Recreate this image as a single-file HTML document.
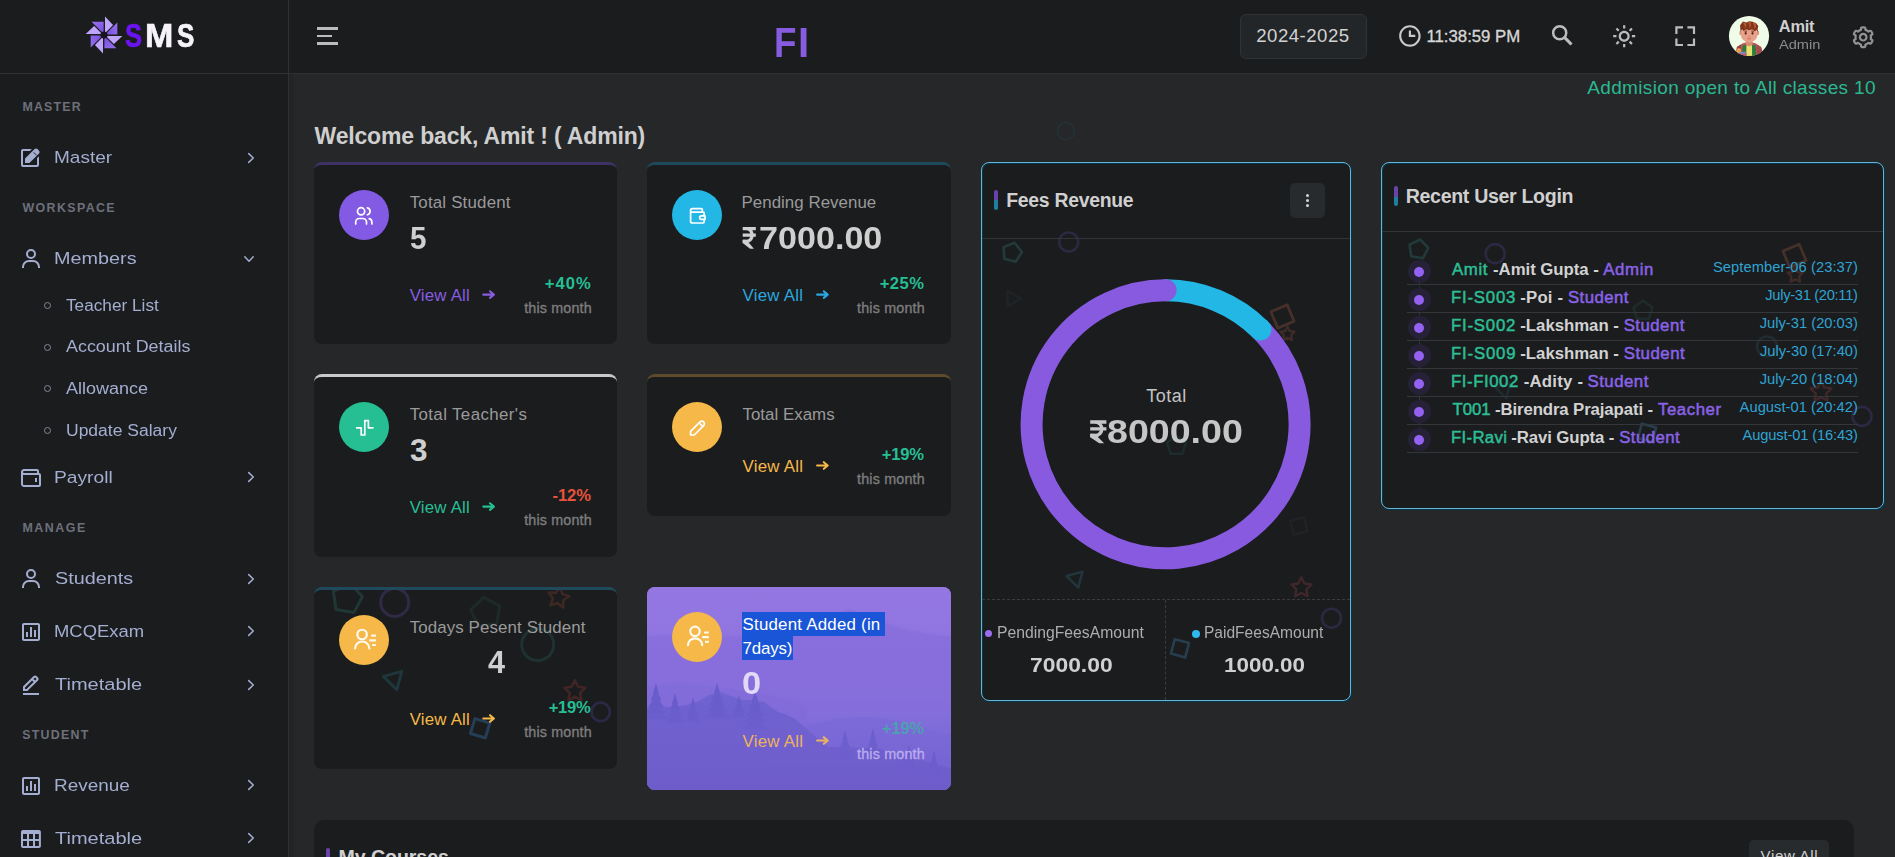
<!DOCTYPE html>
<html lang="en">
<head>
<meta charset="utf-8">
<title>SMS Dashboard</title>
<style>
*{box-sizing:border-box;margin:0;padding:0}
html,body{width:1895px;height:857px;overflow:hidden;background:#262729;font-family:"Liberation Sans",sans-serif}
#app{position:relative;width:1895px;height:857px;overflow:hidden;background:#262729}
.abs{position:absolute}
.t{position:absolute;white-space:nowrap;line-height:1;font-family:"Liberation Sans",sans-serif}
#sidebar{position:absolute;left:0;top:0;width:289px;height:857px;background:#1b1c1e;border-right:1px solid #2f3032}
#header{position:absolute;left:0;top:0;width:1895px;height:74px;background:#1b1c1e;border-bottom:1px solid #2f3032}
#sbhead{position:absolute;left:0;top:0;width:289px;height:74px;border-right:1px solid #2f3032;border-bottom:1px solid #2f3032}
.card{position:absolute;background:#1b1c1e;border-radius:8px;overflow:hidden}
.card.bt{border-top:3px solid #333}
.ic{position:absolute;width:50px;height:50px;border-radius:50%}
svg{position:absolute;overflow:visible}
.bul{position:absolute;width:7px;height:7px;border-radius:50%;border:1.3px solid #83889a}
.sep{position:absolute;height:1px;background:#323437}
</style>
</head>
<body>
<div id="app">

<!-- ============ MAIN CONTENT ============ -->
<div class="abs" id="sbshadow" style="left:289px;top:74px;width:5px;height:783px;background:rgba(0,0,0,.07)"></div>
<svg style="left:0;top:0" width="1895" height="857" viewBox="0 0 1895 857" fill="none"><circle cx="1066" cy="131" r="8.5" stroke="#243033" stroke-width="2.2"/></svg>
<div class="card" style="left:1381px;top:162px;width:503px;height:347px;border:1px solid #66b5d4;border-radius:8px;box-shadow:1px 1px 0 #06364c, inset 1px 1px 0 #06364c"><!--SHAPESR--></div>
<div class="card" style="left:981px;top:162px;width:370px;height:539px;border:1px solid #66b5d4;border-radius:8px;box-shadow:1px 1px 0 #06364c, inset 1px 1px 0 #06364c"><!--SHAPESF--></div>
<div class="card" style="left:314px;top:162px;width:303px;height:182px;border-top:3px solid #3c3264"></div>
<div class="card" style="left:647px;top:162px;width:304px;height:182px;border-top:3px solid #1f4a5c"></div>
<div class="card" style="left:314px;top:374px;width:303px;height:183px;border-top:3px solid #c9c9c9"></div>
<div class="card" style="left:647px;top:374px;width:304px;height:141.5px;border-top:3px solid #5e4b2c"></div>
<div class="card" style="left:314px;top:587px;width:303px;height:181.5px;border-top:3px solid #1f4a5c"><!--SHAPES5--></div>
<div class="card" style="left:647px;top:587px;width:304px;height:203px;background:#8f72dd"><!--LS0--><svg style="left:0;top:0" width="304" height="203" viewBox="0 0 304 203"><defs><linearGradient id="sky" x1="0" y1="0" x2="0" y2="1"><stop offset="0" stop-color="#9577e2"/><stop offset="0.45" stop-color="#8b73de"/><stop offset="0.75" stop-color="#7f6dd9"/><stop offset="1" stop-color="#7464d1"/></linearGradient><linearGradient id="rg" x1="0" y1="0" x2="0" y2="1"><stop offset="0" stop-color="#6f63d0"/><stop offset="1" stop-color="#6a58c6"/></linearGradient><linearGradient id="mist" x1="0" y1="0" x2="0" y2="1"><stop offset="0" stop-color="#7b69d6" stop-opacity="0"/><stop offset="1" stop-color="#6d5cca" stop-opacity="0.85"/></linearGradient><filter id="bl1" x="-5%" y="-5%" width="110%" height="110%"><feGaussianBlur stdDeviation="0.7"/></filter><filter id="bl2" x="-5%" y="-5%" width="110%" height="110%"><feGaussianBlur stdDeviation="1.2"/></filter></defs><rect width="304" height="203" fill="url(#sky)"/><g filter="url(#bl2)"><path d="M-5 50 C40 44 90 52 130 50 C160 48 185 28 203 22 C222 30 250 46 310 50 V125 H-5Z" fill="#856ddb" opacity="0.75"/><path d="M-5 100 C30 94 60 98 95 104 C120 108 140 112 160 120 V150 H-5Z" fill="#806bd9" opacity="0.7"/></g><g filter="url(#bl1)"><path d="M120 150 C150 142 175 133 200 131 C225 129 245 132 262 137 C280 142 295 146 310 148 V210 H120Z" fill="#7b6ad7" opacity="0.95"/></g><g filter="url(#bl1)"><path d="M-5 122 L6 118 L22 120 L40 118 L52 114 L62 108 L73 105 L84 109 L95 113 L105 113 L117 115 L124 120 L131 125 L140 128 L148 132 L156 139 L165 147 L181 160 L192 160 L203 160 L214 161 L226 160 L240 164 L248 167 L265 171 L281 175 L310 183 V210 H-5Z" fill="url(#rg)"/><polygon points="9.0,96.0 5.9,106.9 12.1,106.9" fill="#695ccb"/><polygon points="9.0,102.4 3.5,113.3 14.5,113.3" fill="#695ccb"/><polygon points="9.0,108.8 1.1,119.7 16.9,119.7" fill="#695ccb"/><polygon points="9.0,115.2 -1.3,126.1 19.3,126.1" fill="#695ccb"/><polygon points="9.0,121.6 -3.7,132.5 21.7,132.5" fill="#695ccb"/><polygon points="28.0,106.0 24.9,116.9 31.1,116.9" fill="#695ccb"/><polygon points="28.0,112.4 22.5,123.3 33.5,123.3" fill="#695ccb"/><polygon points="28.0,118.8 20.2,129.7 35.8,129.7" fill="#695ccb"/><polygon points="28.0,125.2 17.8,136.1 38.2,136.1" fill="#695ccb"/><polygon points="46.0,110.0 43.6,118.8 48.4,118.8" fill="#695ccb"/><polygon points="46.0,115.2 41.7,124.0 50.3,124.0" fill="#695ccb"/><polygon points="46.0,120.4 39.8,129.2 52.2,129.2" fill="#695ccb"/><polygon points="46.0,125.6 37.9,134.4 54.1,134.4" fill="#695ccb"/><polygon points="70.0,96.0 66.9,106.3 73.1,106.3" fill="#695ccb"/><polygon points="70.0,102.1 64.5,112.4 75.5,112.4" fill="#695ccb"/><polygon points="70.0,108.2 62.1,118.5 77.9,118.5" fill="#695ccb"/><polygon points="70.0,114.2 59.7,124.6 80.3,124.6" fill="#695ccb"/><polygon points="70.0,120.3 57.3,130.7 82.7,130.7" fill="#695ccb"/><polygon points="92.0,108.0 89.7,116.2 94.3,116.2" fill="#695ccb"/><polygon points="92.0,112.8 88.0,121.0 96.0,121.0" fill="#695ccb"/><polygon points="92.0,117.6 86.2,125.8 97.8,125.8" fill="#695ccb"/><polygon points="92.0,122.4 84.5,130.6 99.5,130.6" fill="#695ccb"/><polygon points="108.0,104.0 104.4,115.4 111.6,115.4" fill="#695ccb"/><polygon points="108.0,110.7 101.6,122.1 114.4,122.1" fill="#695ccb"/><polygon points="108.0,117.4 98.8,128.9 117.2,128.9" fill="#695ccb"/><polygon points="108.0,124.2 96.0,135.6 120.0,135.6" fill="#695ccb"/><polygon points="108.0,130.9 93.2,142.3 122.8,142.3" fill="#695ccb"/><polygon points="198.0,143.0 195.2,153.9 200.8,153.9" fill="#685bca"/><polygon points="198.0,149.4 193.1,160.3 202.9,160.3" fill="#685bca"/><polygon points="198.0,155.8 191.0,166.7 205.0,166.7" fill="#685bca"/><polygon points="198.0,162.2 188.9,173.1 207.1,173.1" fill="#685bca"/><polygon points="226.0,141.0 223.1,152.6 228.9,152.6" fill="#685bca"/><polygon points="226.0,147.8 220.8,159.4 231.2,159.4" fill="#685bca"/><polygon points="226.0,154.6 218.6,166.2 233.4,166.2" fill="#685bca"/><polygon points="226.0,161.4 216.3,173.0 235.7,173.0" fill="#685bca"/><polygon points="262.0,158.0 259.6,167.5 264.4,167.5" fill="#6759c8"/><polygon points="262.0,163.6 257.7,173.1 266.3,173.1" fill="#6759c8"/><polygon points="262.0,169.2 255.8,178.7 268.2,178.7" fill="#6759c8"/><polygon points="262.0,174.8 253.9,184.3 270.1,184.3" fill="#6759c8"/><polygon points="287.0,163.0 284.4,173.2 289.6,173.2" fill="#6759c8"/><polygon points="287.0,169.0 282.4,179.2 291.6,179.2" fill="#6759c8"/><polygon points="287.0,175.0 280.4,185.2 293.6,185.2" fill="#6759c8"/><polygon points="287.0,181.0 278.4,191.2 295.6,191.2" fill="#6759c8"/></g><rect y="120" width="304" height="83" fill="url(#mist)"/></svg><!--LS1--></div>
<div class="card" style="left:314px;top:820px;width:1540px;height:80px;border-radius:10px"></div>
<svg style="left:0;top:0;filter:blur(0.55px)" width="1895" height="857" viewBox="0 0 1895 857" fill="none"><defs><clipPath id="c5clip"><rect x="314" y="590" width="303" height="178.5" rx="6"/></clipPath></defs><g clip-path="url(#c5clip)"><polygon points="349.8,583.4 362.4,596.5 353.9,612.6 336.0,609.5 333.4,591.4" stroke="#203735" stroke-width="3" stroke-linejoin="round"/><circle cx="394.7" cy="602.4" r="14" stroke="#302a47" stroke-width="3"/><polygon points="483.7,597.3 499.8,605.8 496.7,623.7 478.6,626.3 470.6,609.9" stroke="#1e2a2a" stroke-width="3" stroke-linejoin="round"/><circle cx="537.7" cy="644.6" r="16" stroke="#1e3232" stroke-width="3"/><polygon points="560.3,586.9 562.4,593.9 569.3,596.2 563.3,600.3 563.2,607.6 557.4,603.1 550.5,605.3 553.0,598.5 548.7,592.5 556.0,592.8" stroke="#3c2822" stroke-width="2.6" stroke-linejoin="round"/><polygon points="396.8,689.8 383.4,676.4 401.8,671.4" stroke="#1f373a" stroke-width="3" stroke-linejoin="round"/><polygon points="574.9,680.2 578.1,686.8 585.4,687.8 580.1,692.9 581.4,700.1 574.9,696.7 568.4,700.1 569.7,692.9 564.4,687.8 571.7,686.8" stroke="#3f2523" stroke-width="2.6" stroke-linejoin="round"/><circle cx="600.7" cy="711.9" r="9.2" stroke="#2d2746" stroke-width="2.8"/><polygon points="489.8,723.1 485.3,738.0 470.4,733.5 474.9,718.6" stroke="#233e55" stroke-width="3" stroke-linejoin="round"/></g><polygon points="1014.6,242.8 1022.0,252.0 1015.6,261.8 1004.2,258.8 1003.6,247.1" stroke="#223a3a" stroke-width="2.6" stroke-linejoin="round"/><circle cx="1068.7" cy="242" r="9.5" stroke="#2d2842" stroke-width="2.6"/><polygon points="1021.0,298.7 1007.5,306.5 1007.5,290.9" stroke="#202326" stroke-width="2.6" stroke-linejoin="round"/><polygon points="1287.2,304.9 1294.1,321.2 1277.8,328.1 1270.9,311.8" stroke="#46302a" stroke-width="2.8" stroke-linejoin="round"/><polygon points="1287.5,326.5 1289.7,331.0 1294.6,331.7 1291.1,335.2 1291.9,340.1 1287.5,337.8 1283.1,340.1 1283.9,335.2 1280.4,331.7 1285.3,331.0" stroke="#3e2a27" stroke-width="2.4" stroke-linejoin="round"/><polygon points="1176.5,435.7 1186.0,442.6 1182.4,453.8 1170.6,453.8 1167.0,442.6" stroke="#1f2b2b" stroke-width="2.6" stroke-linejoin="round"/><polygon points="1304.0,517.3 1307.7,531.0 1294.0,534.7 1290.3,521.0" stroke="#202326" stroke-width="2.6" stroke-linejoin="round"/><polygon points="1078.2,587.7 1066.5,576.0 1082.4,571.8" stroke="#21353b" stroke-width="2.6" stroke-linejoin="round"/><polygon points="1301.4,577.2 1304.5,583.5 1311.4,584.5 1306.4,589.3 1307.6,596.2 1301.4,593.0 1295.2,596.2 1296.4,589.3 1291.4,584.5 1298.3,583.5" stroke="#40282a" stroke-width="2.4" stroke-linejoin="round"/><circle cx="1331.5" cy="618.2" r="9.5" stroke="#2d2842" stroke-width="2.6"/><polygon points="1189.1,643.0 1185.2,657.4 1170.9,653.5 1174.8,639.2" stroke="#263e4e" stroke-width="2.6" stroke-linejoin="round"/><polygon points="1420.1,239.5 1428.3,247.9 1422.8,258.3 1411.2,256.2 1409.6,244.6" stroke="#223a3a" stroke-width="2.6" stroke-linejoin="round"/><circle cx="1495.2" cy="253.6" r="9.5" stroke="#2d2842" stroke-width="2.6"/><polygon points="1643.0,300.6 1652.5,307.5 1648.9,318.7 1637.1,318.7 1633.5,307.5" stroke="#1f2b2b" stroke-width="2.6" stroke-linejoin="round"/><circle cx="1767" cy="346.5" r="10" stroke="#1f2d30" stroke-width="2.6"/><polygon points="1799.2,244.2 1806.1,260.5 1789.8,267.4 1782.9,251.1" stroke="#46302a" stroke-width="2.8" stroke-linejoin="round"/><polygon points="1795.3,267.2 1797.7,272.0 1802.9,272.7 1799.1,276.4 1800.0,281.7 1795.3,279.2 1790.6,281.7 1791.5,276.4 1787.7,272.7 1792.9,272.0" stroke="#3e2a27" stroke-width="2.4" stroke-linejoin="round"/><polygon points="1821.0,380.8 1824.2,387.4 1831.5,388.4 1826.2,393.5 1827.5,400.7 1821.0,397.3 1814.5,400.7 1815.8,393.5 1810.5,388.4 1817.8,387.4" stroke="#40282a" stroke-width="2.4" stroke-linejoin="round"/><circle cx="1862" cy="416.4" r="9.5" stroke="#2d2842" stroke-width="2.6"/><polygon points="1656.1,427.6 1652.2,441.9 1637.9,438.1 1641.8,423.7" stroke="#263e4e" stroke-width="2.6" stroke-linejoin="round"/><polygon points="1506.3,398.3 1495.3,387.3 1510.4,383.2" stroke="#1f2b2e" stroke-width="2.6" stroke-linejoin="round"/></svg>
<div class="abs" style="left:742.2px;top:612.2px;width:143.3px;height:24px;background:#1955d6"></div>
<div class="abs" style="left:742.2px;top:636.0px;width:50.6px;height:23.8px;background:#1955d6"></div>
<div class="ic" style="left:339.0px;top:189.8px;width:50.2px;height:50.2px;background:#825ae4"></div>
<div class="ic" style="left:671.9px;top:189.9px;width:50.2px;height:50.2px;background:#23b7e5"></div>
<div class="ic" style="left:339.0px;top:401.9px;width:50.2px;height:50.2px;background:#26bf94"></div>
<div class="ic" style="left:671.9px;top:401.9px;width:50.2px;height:50.2px;background:#f5b849"></div>
<div class="ic" style="left:339.0px;top:614.9px;width:50.2px;height:50.2px;background:#f5b849"></div>
<div class="ic" style="left:671.9px;top:611.7px;width:50.2px;height:50.2px;background:#f5b849"></div>
<svg style="left:353.4px;top:205.4px" width="21.6" height="21.6" viewBox="0 0 24 24" fill="none" stroke="#fff" stroke-width="1.9" stroke-linecap="round" stroke-linejoin="round"><circle cx="9" cy="7" r="4"/><path d="M3 21v-2a4 4 0 0 1 4-4h4a4 4 0 0 1 4 4v2"/><path d="M16 3.13a4 4 0 0 1 0 7.75"/><path d="M21 21v-2a4 4 0 0 0-3-3.85"/></svg>
<svg style="left:686.9px;top:205.0px" width="21.6" height="21.6" viewBox="0 0 24 24" fill="none" stroke="#fff" stroke-width="1.9" stroke-linecap="round" stroke-linejoin="round"><path d="M17 8v-3a1 1 0 0 0-1-1h-10a2 2 0 0 0 0 4h12a1 1 0 0 1 1 1v3m0 4v3a1 1 0 0 1-1 1h-12a2 2 0 0 1-2-2v-12"/><path d="M20 12v4h-4a2 2 0 0 1 0-4h4"/></svg>
<svg style="left:353.59999999999997px;top:417.09999999999997px" width="21.6" height="21.6" viewBox="0 0 24 24" fill="none" stroke="#fff" stroke-width="1.9" stroke-linecap="round" stroke-linejoin="round"><path d="M3 12h5v8h4v-16h4v8h5"/></svg>
<svg style="left:686.715px;top:417.28499999999997px" width="21.6" height="21.6" viewBox="0 0 24 24" fill="none" stroke="#fff" stroke-width="1.9" stroke-linecap="round" stroke-linejoin="round"><path d="M4 20h4l10.500-10.500a2.828 2.828 0 1 0-4-4l-10.500 10.500v4"/><path d="M13.500 6.500l4 4"/></svg>
<svg style="left:0px;top:0px" width="1895" height="857" viewBox="0 0 1895 857" fill="none" stroke="#fff9ee" stroke-width="2.2" stroke-linecap="round"><circle cx="362.10" cy="634.50" r="4.75"/><path d="M355.10 648.40 A7.1 6.9 0 0 1 369.30 648.40"/><path d="M371.20 635.70 H375.90 M369.30 640.40 H375.90 M372.20 645.00 H375.90" stroke-linecap="butt"/></svg>
<svg style="left:0px;top:0px" width="1895" height="857" viewBox="0 0 1895 857" fill="none" stroke="#fff9ee" stroke-width="2.2" stroke-linecap="round"><circle cx="695.00" cy="631.30" r="4.75"/><path d="M688.00 645.20 A7.1 6.9 0 0 1 702.20 645.20"/><path d="M704.10 632.50 H708.80 M702.20 637.20 H708.80 M705.10 641.80 H708.80" stroke-linecap="butt"/></svg>
<svg style="left:0px;top:0px" width="1895" height="857" viewBox="0 0 1895 857" fill="none" stroke="#875ce0" stroke-width="2.1" stroke-linecap="round" stroke-linejoin="round"><path d="M483.30 294.60 H493.60 M490.00 291.30 L493.90 294.60 L490.00 297.90"/></svg>
<svg style="left:0px;top:0px" width="1895" height="857" viewBox="0 0 1895 857" fill="none" stroke="#2aa7df" stroke-width="2.1" stroke-linecap="round" stroke-linejoin="round"><path d="M817.10 294.60 H827.40 M823.80 291.30 L827.70 294.60 L823.80 297.90"/></svg>
<svg style="left:0px;top:0px" width="1895" height="857" viewBox="0 0 1895 857" fill="none" stroke="#26bf94" stroke-width="2.1" stroke-linecap="round" stroke-linejoin="round"><path d="M483.30 506.60 H493.60 M490.00 503.30 L493.90 506.60 L490.00 509.90"/></svg>
<svg style="left:0px;top:0px" width="1895" height="857" viewBox="0 0 1895 857" fill="none" stroke="#f5b849" stroke-width="2.1" stroke-linecap="round" stroke-linejoin="round"><path d="M817.10 465.50 H827.40 M823.80 462.20 L827.70 465.50 L823.80 468.80"/></svg>
<svg style="left:0px;top:0px" width="1895" height="857" viewBox="0 0 1895 857" fill="none" stroke="#f5b849" stroke-width="2.1" stroke-linecap="round" stroke-linejoin="round"><path d="M483.30 718.50 H493.60 M490.00 715.20 L493.90 718.50 L490.00 721.80"/></svg>
<svg style="left:0px;top:0px" width="1895" height="857" viewBox="0 0 1895 857" fill="none" stroke="#ecb260" stroke-width="2.1" stroke-linecap="round" stroke-linejoin="round"><path d="M817.10 740.50 H827.40 M823.80 737.20 L827.70 740.50 L823.80 743.80"/></svg>
<svg style="left:0px;top:0px" width="1895" height="857" viewBox="0 0 1895 857" fill="none" stroke="#cfcfcf" stroke-width="3.27" stroke-linejoin="miter" stroke-linecap="butt"><path d="M742.70 228.53 H755.80 M742.70 235.07 H755.80 M745.98 228.53 C753.97 228.53 753.97 241.29 746.63 241.29 H742.70 "/><polygon points="742.70,239.76 746.24,239.76 753.97,248.70 750.04,248.70 742.70,242.92" fill="#cfcfcf" stroke="none"/></svg>
<div class="abs" style="left:993.8px;top:190px;width:4.4px;height:20.2px;border-radius:2px;background:linear-gradient(#6a42ae 0,#6a42ae 50%,#1f7f9e 50%,#1f7f9e 100%)"></div>
<div class="abs" style="left:1290px;top:183px;width:35px;height:35px;border-radius:5px;background:#282b2e"></div>
<div class="abs" style="left:1306px;top:194px;width:3px;height:3px;border-radius:50%;background:#d6d6d6"></div>
<div class="abs" style="left:1306px;top:199px;width:3px;height:3px;border-radius:50%;background:#d6d6d6"></div>
<div class="abs" style="left:1306px;top:204px;width:3px;height:3px;border-radius:50%;background:#d6d6d6"></div>
<div class="sep" style="left:982px;top:238px;width:368px"></div>
<svg style="left:0px;top:0px" width="1895" height="857" viewBox="0 0 1895 857" fill="none" stroke-width="22"><path d="M1165.60 290.30 A134.0 134.0 0 0 1 1260.35 329.55" stroke="#23b7e5" stroke-linecap="butt"/><path d="M1260.35 329.55 A134.0 134.0 0 1 1 1165.58 290.30" stroke="#875ae0" stroke-linecap="butt"/><circle cx="1260.35" cy="329.55" r="11.0" fill="#23b7e5" stroke="none"/><circle cx="1165.60" cy="290.30" r="11.0" fill="#875ae0" stroke="none"/></svg>
<div class="abs" style="left:982px;top:599px;width:368px;height:0;border-top:1px dashed #3a3c3f"></div>
<div class="abs" style="left:1165px;top:600px;width:0;height:100px;border-left:1px dashed #3a3c3f"></div>
<div class="abs" style="left:985.1px;top:630.1px;width:7px;height:7px;border-radius:50%;background:#9a6cf0"></div>
<div class="abs" style="left:1191.9px;top:629.5px;width:8.2px;height:8.2px;border-radius:50%;background:#2fb9ee"></div>
<!--RP0--><svg style="left:0px;top:0px" width="1895" height="857" viewBox="0 0 1895 857" fill="none" stroke="#c6c6c6" stroke-width="3.43" stroke-linejoin="miter" stroke-linecap="butt"><path d="M1090.20 422.02 H1106.40 M1090.20 428.89 H1106.40 M1094.25 422.02 C1104.13 422.02 1104.13 435.41 1095.06 435.41 H1090.20 "/><polygon points="1090.20,433.81 1094.57,433.81 1104.13,443.20 1099.27,443.20 1090.20,437.13" fill="#c6c6c6" stroke="none"/></svg><!--RP1-->
<div class="abs" style="left:1393.8px;top:186.3px;width:4.3px;height:19.5px;border-radius:2px;background:linear-gradient(#6a42ae 0,#6a42ae 55%,#1f7f9e 55%,#1f7f9e 100%)"></div>
<div class="sep" style="left:1382px;top:231px;width:501px"></div>
<div class="abs" style="left:1418.7px;top:271.7px;width:0;height:168.0px;border-left:1px dashed #3a3450"></div>
<div class="abs" style="left:1407.7px;top:260.2px;width:23px;height:23px;border-radius:50%;background:#262137"></div>
<div class="abs" style="left:1414.1px;top:266.6px;width:10.2px;height:10.2px;border-radius:50%;background:#9461f1"></div>
<div class="abs" style="left:1407.7px;top:288.2px;width:23px;height:23px;border-radius:50%;background:#262137"></div>
<div class="abs" style="left:1414.1px;top:294.6px;width:10.2px;height:10.2px;border-radius:50%;background:#9461f1"></div>
<div class="abs" style="left:1407.7px;top:316.2px;width:23px;height:23px;border-radius:50%;background:#262137"></div>
<div class="abs" style="left:1414.1px;top:322.6px;width:10.2px;height:10.2px;border-radius:50%;background:#9461f1"></div>
<div class="abs" style="left:1407.7px;top:344.2px;width:23px;height:23px;border-radius:50%;background:#262137"></div>
<div class="abs" style="left:1414.1px;top:350.6px;width:10.2px;height:10.2px;border-radius:50%;background:#9461f1"></div>
<div class="abs" style="left:1407.7px;top:372.2px;width:23px;height:23px;border-radius:50%;background:#262137"></div>
<div class="abs" style="left:1414.1px;top:378.6px;width:10.2px;height:10.2px;border-radius:50%;background:#9461f1"></div>
<div class="abs" style="left:1407.7px;top:400.2px;width:23px;height:23px;border-radius:50%;background:#262137"></div>
<div class="abs" style="left:1414.1px;top:406.6px;width:10.2px;height:10.2px;border-radius:50%;background:#9461f1"></div>
<div class="abs" style="left:1407.7px;top:428.2px;width:23px;height:23px;border-radius:50%;background:#262137"></div>
<div class="abs" style="left:1414.1px;top:434.6px;width:10.2px;height:10.2px;border-radius:50%;background:#9461f1"></div>
<div class="sep" style="left:1407px;top:284px;width:450.5px;background:#34363a"></div>
<div class="sep" style="left:1407px;top:312px;width:450.5px;background:#34363a"></div>
<div class="sep" style="left:1407px;top:340px;width:450.5px;background:#34363a"></div>
<div class="sep" style="left:1407px;top:368px;width:450.5px;background:#34363a"></div>
<div class="sep" style="left:1407px;top:396px;width:450.5px;background:#34363a"></div>
<div class="sep" style="left:1407px;top:424px;width:450.5px;background:#34363a"></div>
<div class="sep" style="left:1407px;top:452px;width:450.5px;background:#34363a"></div>
<div class="abs" style="left:325.8px;top:847.5px;width:4.3px;height:20px;border-radius:2px;background:linear-gradient(#6a42ae 0,#6a42ae 55%,#1f7f9e 55%,#1f7f9e 100%)"></div>
<div class="abs" style="left:1749px;top:840px;width:80px;height:40px;border-radius:5px;background:#282b2e"></div>

<!-- ============ HEADER ============ -->
<div id="header"></div>
<div class="abs" style="left:317px;top:27.2px;width:21px;height:2.6px;background:#bcbcbc"></div>
<div class="abs" style="left:317px;top:34.7px;width:14.7px;height:2.4px;background:#bcbcbc"></div>
<div class="abs" style="left:317px;top:42.2px;width:21px;height:2.6px;background:#bcbcbc"></div>
<div class="abs" style="left:1240px;top:14px;width:127px;height:45px;border-radius:6px;background:#232629;border:1px solid #303336"></div>
<svg style="left:1397.1px;top:23.1px" width="25.799999999999997" height="25.799999999999997" viewBox="0 0 24 24" fill="#c9c9c9"><path d="M12 2C6.486 2 2 6.486 2 12s4.486 10 10 10 10-4.486 10-10S17.514 2 12 2zm0 18c-4.411 0-8-3.589-8-8s3.589-8 8-8 8 3.589 8 8-3.589 8-8 8z"/><path d="M13 7h-2v6h6v-2h-4z"/></svg>
<svg style="left:0;top:0" width="1895" height="857" viewBox="0 0 1895 857" fill="none"><circle cx="1559.7" cy="32.7" r="6.55" stroke="#bcbcbc" stroke-width="2.5"/><path d="M1564.7 37.7 L1571.5 44.5" stroke="#bcbcbc" stroke-width="3.1" stroke-linecap="butt"/></svg>
<svg style="left:1610.8px;top:22.799999999999997px" width="26.400000000000002" height="26.400000000000002" viewBox="0 0 24 24" fill="#bcbcbc"><path d="M6.993 12c0 2.761 2.246 5.007 5.007 5.007s5.007-2.246 5.007-5.007S14.761 6.993 12 6.993 6.993 9.239 6.993 12zM12 8.993c1.658 0 3.007 1.349 3.007 3.007S13.658 15.007 12 15.007 8.993 13.658 8.993 12 10.342 8.993 12 8.993zM10.998 19h2v3h-2zm0-17h2v3h-2zm-9 9h3v2h-3zm17 0h3v2h-3zM4.219 18.363l2.12-2.122 1.415 1.414-2.12 2.122zM16.24 6.344l2.122-2.122 1.414 1.414-2.122 2.122zM6.342 7.759 4.22 5.637l1.415-1.414 2.12 2.122zm13.434 10.605-1.414 1.414-2.122-2.122 1.414-1.414z"/></svg>
<svg style="left:1672.1px;top:22.849999999999994px" width="26.400000000000002" height="26.400000000000002" viewBox="0 0 24 24" fill="#bcbcbc"><path d="M5 5h5V3H3v7h2zm5 14H5v-5H3v7h7zm11-5h-2v5h-5v2h7zm-2-4h2V3h-7v2h5z"/></svg>
<svg style="left:1850.1px;top:23.799999999999997px" width="26.400000000000002" height="26.400000000000002" viewBox="0 0 24 24" fill="#929292"><path d="M12 16c2.206 0 4-1.794 4-4s-1.794-4-4-4-4 1.794-4 4 1.794 4 4 4zm0-6c1.084 0 2 .916 2 2s-.916 2-2 2-2-.916-2-2 .916-2 2-2z"/><path d="m2.845 16.136 1 1.73c.531.917 1.809 1.261 2.73.73l.529-.306A8.1 8.1 0 0 0 9 19.402V20c0 1.103.897 2 2 2h2c1.103 0 2-.897 2-2v-.598a8.132 8.132 0 0 0 1.896-1.111l.529.306c.923.53 2.198.188 2.731-.731l.999-1.729a2.001 2.001 0 0 0-.731-2.732l-.505-.292a7.718 7.718 0 0 0 0-2.224l.505-.292a2.002 2.002 0 0 0 .731-2.732l-.999-1.729c-.531-.92-1.808-1.265-2.731-.732l-.529.306A8.1 8.1 0 0 0 15 4.598V4c0-1.103-.897-2-2-2h-2c-1.103 0-2 .897-2 2v.598a8.132 8.132 0 0 0-1.896 1.111l-.529-.306c-.924-.531-2.2-.187-2.731.732l-.999 1.729a2.001 2.001 0 0 0 .731 2.732l.505.292a7.683 7.683 0 0 0 0 2.223l-.505.292a2.003 2.003 0 0 0-.731 2.733zm3.326-2.758A5.703 5.703 0 0 1 6 12c0-.462.058-.926.17-1.378a.999.999 0 0 0-.47-1.108l-1.123-.65.998-1.729 1.145.662a.997.997 0 0 0 1.188-.142 6.071 6.071 0 0 1 2.384-1.399A1 1 0 0 0 11 5.300V4h2v1.300a1 1 0 0 0 .708.956 6.083 6.083 0 0 1 2.384 1.399.999.999 0 0 0 1.188.142l1.144-.661 1 1.729-1.124.649a1 1 0 0 0-.47 1.108c.112.452.17.916.17 1.378 0 .461-.058.925-.171 1.378a1 1 0 0 0 .471 1.108l1.123.649-.998 1.729-1.145-.661a.996.996 0 0 0-1.188.142 6.071 6.071 0 0 1-2.384 1.399A1 1 0 0 0 13 18.700V20h-2v-1.300a1 1 0 0 0-.708-.956 6.083 6.083 0 0 1-2.384-1.399.992.992 0 0 0-1.188-.141l-1.144.662-1-1.729 1.124-.651a1 1 0 0 0 .471-1.108z"/></svg>
<!--AV0--><svg style="left:0;top:0" width="1895" height="857" viewBox="0 0 1895 857"><defs><clipPath id="avc"><circle cx="1749.0" cy="36.0" r="20.1"/></clipPath></defs><circle cx="1749.0" cy="36.0" r="20.1" fill="#effce7"/><g clip-path="url(#avc)"><polygon points="1735.20,58.19 1736.95,46.99 1742.90,43.15 1749.20,41.75 1755.49,43.15 1761.09,46.99 1764.24,58.19" fill="#b9585a"/><polygon points="1735.20,58.19 1736.95,46.99 1740.80,44.55 1741.85,58.19" fill="#9c4348"/><polygon points="1756.89,58.19 1756.54,44.55 1761.09,46.99 1764.24,58.19" fill="#a64a4e"/><polygon points="1742.20,58.19 1742.55,45.24 1755.84,45.24 1756.19,58.19" fill="#2f7d3c"/><polygon points="1746.26,58.19 1746.40,45.24 1751.99,45.24 1752.13,58.19" fill="#eadf73"/><polygon points="1746.05,40.00 1752.34,40.00 1752.69,44.20 1749.20,46.29 1745.70,44.20" fill="#d98d76"/><ellipse cx="1740.59" cy="33.00" rx="1.3" ry="2.2" fill="#dd917b"/><ellipse cx="1757.80" cy="33.00" rx="1.3" ry="2.2" fill="#dd917b"/><ellipse cx="1749.20" cy="34.75" rx="8.3" ry="7.6" fill="#e8a18b"/><ellipse cx="1745.70" cy="33.35" rx="1.0" ry="1.3" fill="#5a2a1c"/><ellipse cx="1752.48" cy="33.35" rx="1.0" ry="1.3" fill="#5a2a1c"/><path d="M1744.65 31.46 L1747.10 31.04" stroke="#6b2f17" stroke-width="0.9"/><path d="M1751.29 31.04 L1753.74 31.46" stroke="#6b2f17" stroke-width="0.9"/><ellipse cx="1749.20" cy="36.50" rx="1.1" ry="0.8" fill="#d4816d"/><path d="M1747.80 38.74 L1750.59 38.74" stroke="#b8604f" stroke-width="0.8" stroke-linecap="round"/><polygon points="1740.10,25.30 1742.90,21.45 1746.40,22.50 1749.20,21.24 1752.69,21.80 1756.19,23.34 1758.29,26.00 1757.59,29.15 1758.29,31.95 1756.54,30.20 1754.79,31.25 1751.99,29.15 1749.20,30.34 1746.40,29.15 1743.60,30.90 1741.85,29.50 1740.80,32.30 1740.24,28.80" fill="#823518"/><polygon points="1742.90,22.50 1745.00,26.00 1744.30,28.80 1746.40,26.00 1745.70,22.85" fill="#b85c36"/><polygon points="1747.80,21.94 1749.55,26.00 1748.85,29.15 1751.29,26.00 1750.59,21.80" fill="#ad5230"/><polygon points="1752.69,22.50 1754.44,26.00 1753.74,29.15 1756.19,26.70 1755.49,23.34" fill="#b85c36"/><polygon points="1735.55,51.54 1738.00,48.04 1740.80,48.74 1741.50,52.59 1738.00,53.99" fill="#e9a04f"/><polygon points="1738.00,53.29 1746.40,52.24 1746.40,56.79 1740.10,56.79" fill="#c65a6e"/><polygon points="1739.40,52.03 1745.70,51.75 1745.84,53.29 1739.75,53.64" fill="#6f8fd8"/></g></svg><!--AV1-->

<!-- ============ SIDEBAR ============ -->
<div id="sidebar"></div>
<div id="sbhead"></div>
<svg style="left:83.5px;top:14.700000000000003px;filter:blur(0.35px)" width="40" height="40" viewBox="-20 -20 40 40" ><defs><radialGradient id="lgd" cx="0" cy="0" r="18" gradientUnits="userSpaceOnUse"><stop offset="0.2" stop-color="#7a4fe0"/><stop offset="1" stop-color="#9873ee"/></radialGradient></defs><polygon points="-0.40,-1.25 -0.40,-13.30 -12.45,-13.30" fill="url(#lgd)"/><polygon points="1.00,-1.85 1.00,-18.40 9.05,-9.90" fill="#bea4fa"/><polygon points="1.25,-0.40 13.30,-0.40 13.30,-12.45" fill="url(#lgd)"/><polygon points="1.85,1.00 18.40,1.00 9.90,9.05" fill="#bea4fa"/><polygon points="0.40,1.25 0.40,13.30 12.45,13.30" fill="url(#lgd)"/><polygon points="-1.00,1.85 -1.00,18.40 -9.05,9.90" fill="#bea4fa"/><polygon points="-1.25,0.40 -13.30,0.40 -13.30,12.45" fill="url(#lgd)"/><polygon points="-1.85,-1.00 -18.40,-1.00 -9.90,-9.05" fill="#bea4fa"/><circle cx="0" cy="0" r="3.6" fill="#17131f"/></svg>
<svg style="left:245.5px;top:150.5px" width="10" height="14" viewBox="-5 -7 10 14" ><path d="M-2.3 -4.4 L2.3 0 L-2.3 4.4" fill="none" stroke="#a3aed0" stroke-width="1.5" stroke-linecap="round" stroke-linejoin="round"/></svg>
<svg style="left:245.5px;top:470.4px" width="10" height="14" viewBox="-5 -7 10 14" ><path d="M-2.3 -4.4 L2.3 0 L-2.3 4.4" fill="none" stroke="#a3aed0" stroke-width="1.5" stroke-linecap="round" stroke-linejoin="round"/></svg>
<svg style="left:245.5px;top:571.5px" width="10" height="14" viewBox="-5 -7 10 14" ><path d="M-2.3 -4.4 L2.3 0 L-2.3 4.4" fill="none" stroke="#a3aed0" stroke-width="1.5" stroke-linecap="round" stroke-linejoin="round"/></svg>
<svg style="left:245.5px;top:624.3px" width="10" height="14" viewBox="-5 -7 10 14" ><path d="M-2.3 -4.4 L2.3 0 L-2.3 4.4" fill="none" stroke="#a3aed0" stroke-width="1.5" stroke-linecap="round" stroke-linejoin="round"/></svg>
<svg style="left:245.5px;top:677.5px" width="10" height="14" viewBox="-5 -7 10 14" ><path d="M-2.3 -4.4 L2.3 0 L-2.3 4.4" fill="none" stroke="#a3aed0" stroke-width="1.5" stroke-linecap="round" stroke-linejoin="round"/></svg>
<svg style="left:245.5px;top:778.3px" width="10" height="14" viewBox="-5 -7 10 14" ><path d="M-2.3 -4.4 L2.3 0 L-2.3 4.4" fill="none" stroke="#a3aed0" stroke-width="1.5" stroke-linecap="round" stroke-linejoin="round"/></svg>
<svg style="left:245.5px;top:831.3px" width="10" height="14" viewBox="-5 -7 10 14" ><path d="M-2.3 -4.4 L2.3 0 L-2.3 4.4" fill="none" stroke="#a3aed0" stroke-width="1.5" stroke-linecap="round" stroke-linejoin="round"/></svg>
<svg style="left:242.4px;top:254px" width="14" height="10" viewBox="-7 -5 14 10" ><path d="M-4.2 -2.2 L0 2.2 L4.2 -2.2" fill="none" stroke="#a3aed0" stroke-width="1.5" stroke-linecap="round" stroke-linejoin="round"/></svg>
<div class="bul" style="left:43.5px;top:302.3px"></div>
<div class="bul" style="left:43.5px;top:343.9px"></div>
<div class="bul" style="left:43.5px;top:385.4px"></div>
<div class="bul" style="left:43.5px;top:426.9px"></div>
<svg style="left:18.4px;top:146.0px" width="24" height="24" viewBox="0 0 24 24" fill="#a3aed0"><path d="m7 17.013 4.413-.015 9.632-9.54c.378-.378.586-.88.586-1.414s-.208-1.036-.586-1.414l-1.586-1.586c-.756-.756-2.075-.752-2.825-.003L7 12.583v4.43z"/><path d="M15.6 6.3l3.1 3.1" stroke="#1b1c1e" stroke-width="0.9" fill="none"/><path d="M5 21h14c1.103 0 2-.897 2-2v-8.668l-2 2V19H8.158c-.026 0-.053.01-.079.01-.033 0-.066-.009-.1-.01H5V5h6.847l2-2H5c-1.103 0-2 .897-2 2v14c0 1.103.897 2 2 2z"/></svg>
<svg style="left:18.7px;top:247.2px" width="24" height="24" viewBox="0 0 24 24" fill="#a3aed0"><path d="M12 2a5 5 0 1 0 5 5 5 5 0 0 0-5-5zm0 8a3 3 0 1 1 3-3 3 3 0 0 1-3 3zm9 11v-1a7 7 0 0 0-7-7h-4a7 7 0 0 0-7 7v1h2v-1a5 5 0 0 1 5-5h4a5 5 0 0 1 5 5v1z"/></svg>
<svg style="left:18.5px;top:465.8px" width="24" height="24" viewBox="0 0 24 24" fill="#a3aed0"><path d="M16 12h2v4h-2z"/><path d="M20 7V5c0-1.103-.897-2-2-2H5C3.346 3 2 4.346 2 6v12c0 2.201 1.794 3 3 3h15c1.103 0 2-.897 2-2V9c0-1.103-.897-2-2-2zM5 5h13v2H5a1.001 1.001 0 0 1 0-2zm15 14H5.012C4.55 18.988 4 18.805 4 18V8.815c.314.113.647.185 1 .185h15v10z"/></svg>
<svg style="left:18.7px;top:567.0px" width="24" height="24" viewBox="0 0 24 24" fill="#a3aed0"><path d="M12 2a5 5 0 1 0 5 5 5 5 0 0 0-5-5zm0 8a3 3 0 1 1 3-3 3 3 0 0 1-3 3zm9 11v-1a7 7 0 0 0-7-7h-4a7 7 0 0 0-7 7v1h2v-1a5 5 0 0 1 5-5h4a5 5 0 0 1 5 5v1z"/></svg>
<svg style="left:18.6px;top:619.7px" width="24" height="24" viewBox="0 0 24 24" fill="#a3aed0"><path d="M5 3h14c1.103 0 2 .897 2 2v14c0 1.103-.897 2-2 2H5c-1.103 0-2-.897-2-2V5c0-1.103.897-2 2-2zm0 16h14.002L19 5H5v14z"/><path d="M7 12h2v5H7zm4-5h2v10h-2zm4 3h2v7h-2z"/></svg>
<svg style="left:18.6px;top:673.2px" width="24" height="24" viewBox="0 0 24 24" fill="#a3aed0"><path d="M19.045 7.401c.378-.378.586-.88.586-1.414s-.208-1.036-.586-1.414l-1.586-1.586c-.378-.378-.88-.586-1.414-.586s-1.036.208-1.413.585L4 13.585V18h4.413L19.045 7.401zm-3-3 1.587 1.585-1.59 1.584-1.586-1.585 1.589-1.584zM6 16v-1.585l7.04-7.018 1.586 1.586L7.587 16H6zm-2 4h16v2H4z"/></svg>
<svg style="left:18.6px;top:774.0px" width="24" height="24" viewBox="0 0 24 24" fill="#a3aed0"><path d="M5 3h14c1.103 0 2 .897 2 2v14c0 1.103-.897 2-2 2H5c-1.103 0-2-.897-2-2V5c0-1.103.897-2 2-2zm0 16h14.002L19 5H5v14z"/><path d="M7 12h2v5H7zm4-5h2v10h-2zm4 3h2v7h-2z"/></svg>
<svg style="left:18.5px;top:827.0px" width="24" height="24" viewBox="0 0 24 24" fill="#a3aed0"><path d="M4 21h15.893c1.103 0 2-.897 2-2V5c0-1.103-.897-2-2-2H4c-1.103 0-2 .897-2 2v14c0 1.103.897 2 2 2zm0-2v-5h4v5H4zM14 7v5h-4V7h4zM8 7v5H4V7h4zm2 12v-5h4v5h-4zm6 0v-5h3.894v5H16zm3.893-7H16V7h3.893v5z"/></svg>

<!-- ============ TEXT ============ -->
<span class="t " style="left:22.50px;top:101.00px;font-size:12.4px;font-weight:700;color:#6d707b;letter-spacing:1.167px;">MASTER</span>
<span class="t " style="left:22.50px;top:202.00px;font-size:12.4px;font-weight:700;color:#6d707b;letter-spacing:1.383px;">WORKSPACE</span>
<span class="t " style="left:22.50px;top:522.00px;font-size:12.4px;font-weight:700;color:#6d707b;letter-spacing:1.539px;">MANAGE</span>
<span class="t " style="left:22.20px;top:729.00px;font-size:12.4px;font-weight:700;color:#6d707b;letter-spacing:1.276px;">STUDENT</span>
<span class="t " style="left:54.29px;top:149.00px;font-size:17.2px;font-weight:400;color:#a3aed0;transform-origin:0 0;transform:scaleX(1.1061);">Master</span>
<span class="t " style="left:54.35px;top:250.00px;font-size:17.2px;font-weight:400;color:#a3aed0;transform-origin:0 0;transform:scaleX(1.1523);">Members</span>
<span class="t " style="left:66.20px;top:298.00px;font-size:15.6px;font-weight:400;color:#a3aed0;transform-origin:0 0;transform:scaleX(1.1033);">Teacher List</span>
<span class="t " style="left:66.20px;top:339.00px;font-size:15.6px;font-weight:400;color:#a3aed0;transform-origin:0 0;transform:scaleX(1.1479);">Account Details</span>
<span class="t " style="left:66.20px;top:381.00px;font-size:15.6px;font-weight:400;color:#a3aed0;transform-origin:0 0;transform:scaleX(1.1547);">Allowance</span>
<span class="t " style="left:65.58px;top:423.00px;font-size:15.6px;font-weight:400;color:#a3aed0;transform-origin:0 0;transform:scaleX(1.1222);">Update Salary</span>
<span class="t " style="left:54.38px;top:469.00px;font-size:17.2px;font-weight:400;color:#a3aed0;transform-origin:0 0;transform:scaleX(1.1180);">Payroll</span>
<span class="t " style="left:55.00px;top:570.00px;font-size:17.2px;font-weight:400;color:#a3aed0;transform-origin:0 0;transform:scaleX(1.1524);">Students</span>
<span class="t " style="left:54.43px;top:623.00px;font-size:17.2px;font-weight:400;color:#a3aed0;transform-origin:0 0;transform:scaleX(1.0724);">MCQExam</span>
<span class="t " style="left:54.70px;top:676.00px;font-size:17.2px;font-weight:400;color:#a3aed0;transform-origin:0 0;transform:scaleX(1.1647);">Timetable</span>
<span class="t " style="left:54.40px;top:777.00px;font-size:17.2px;font-weight:400;color:#a3aed0;transform-origin:0 0;transform:scaleX(1.1035);">Revenue</span>
<span class="t " style="left:54.70px;top:830.00px;font-size:17.2px;font-weight:400;color:#a3aed0;transform-origin:0 0;transform:scaleX(1.1647);">Timetable</span>
<span class="t " style="left:125.30px;top:20.00px;font-size:32.3px;font-weight:700;color:#6a14f0;transform-origin:0 0;transform:scaleX(0.7905);-webkit-text-stroke:0.7px #6a14f0;">S</span>
<span class="t " style="left:144.90px;top:20.00px;font-size:32.3px;font-weight:700;color:#f6f4f8;transform-origin:0 0;transform:scaleX(1.0522);-webkit-text-stroke:0.6px #f6f4f8;">M</span>
<span class="t " style="left:176.50px;top:20.00px;font-size:32.3px;font-weight:700;color:#f6f4f8;transform-origin:0 0;transform:scaleX(0.8048);-webkit-text-stroke:0.7px #f6f4f8;">S</span>
<span class="t " style="left:773.97px;top:22.00px;font-size:42.5px;font-weight:700;color:#875ce0;transform-origin:0 0;transform:scaleX(0.8652);">F</span>
<span class="t " style="left:797.91px;top:22.00px;font-size:42.5px;font-weight:700;color:#875ce0;transform-origin:0 0;transform:scaleX(0.9429);">I</span>
<span class="t " style="left:1256.30px;top:27.00px;font-size:18.6px;font-weight:400;color:#d2d2d2;letter-spacing:0.478px;">2024-2025</span>
<span class="t " style="left:1426.50px;top:29.00px;font-size:16.8px;font-weight:400;color:#d6d6d6;letter-spacing:-0.023px;-webkit-text-stroke:0.35px #d6d6d6;">11:38:59 PM</span>
<span class="t " style="left:1778.80px;top:18.00px;font-size:16.4px;font-weight:700;color:#cfcfcf;letter-spacing:-0.255px;">Amit</span>
<span class="t " style="left:1778.80px;top:38.00px;font-size:13.6px;font-weight:400;color:#8c8c8c;transform-origin:0 0;transform:scaleX(1.0745);">Admin</span>
<span class="t " style="left:1587.30px;top:78.00px;font-size:19.0px;font-weight:400;color:#2bb891;letter-spacing:0.337px;">Addmision open to All classes 10</span>
<span class="t " style="left:314.50px;top:125.00px;font-size:23.0px;font-weight:700;color:#cfcfcf;letter-spacing:-0.161px;">Welcome back, Amit ! ( Admin)</span>
<span class="t " style="left:409.70px;top:195.00px;font-size:16.9px;font-weight:400;color:#9a9a9a;letter-spacing:0.183px;">Total Student</span>
<span class="t " style="left:410.00px;top:223.00px;font-size:31.5px;font-weight:700;color:#cfcfcf;transform-origin:0 0;transform:scaleX(0.9412);">5</span>
<span class="t " style="left:409.70px;top:288.00px;font-size:16.9px;font-weight:400;color:#875ce0;letter-spacing:0.183px;">View All</span>
<span class="t " style="left:544.70px;top:276.00px;font-size:16.6px;font-weight:700;color:#26bf94;letter-spacing:1.051px;">+40%</span>
<span class="t " style="left:524.20px;top:301.00px;font-size:14.3px;font-weight:400;color:#7d7d7d;letter-spacing:0.166px;-webkit-text-stroke:0.35px;">this month</span>
<span class="t " style="left:741.50px;top:195.00px;font-size:16.9px;font-weight:400;color:#9a9a9a;letter-spacing:0.029px;">Pending Revenue</span>
<span class="t " style="left:758.92px;top:223.00px;font-size:31.5px;font-weight:700;color:#cfcfcf;transform-origin:0 0;transform:scaleX(1.0833);">7000.00</span>
<span class="t " style="left:742.50px;top:288.00px;font-size:16.9px;font-weight:400;color:#2aa7df;letter-spacing:0.255px;">View All</span>
<span class="t " style="left:879.70px;top:276.00px;font-size:16.6px;font-weight:700;color:#26bf94;letter-spacing:0.451px;">+25%</span>
<span class="t " style="left:857.00px;top:301.00px;font-size:14.3px;font-weight:400;color:#7d7d7d;letter-spacing:0.188px;-webkit-text-stroke:0.35px;">this month</span>
<span class="t " style="left:409.70px;top:407.00px;font-size:16.9px;font-weight:400;color:#9a9a9a;letter-spacing:0.380px;">Total Teacher&#x27;s</span>
<span class="t " style="left:410.00px;top:435.00px;font-size:31.5px;font-weight:700;color:#cfcfcf;transform-origin:0 0;transform:scaleX(1.0000);">3</span>
<span class="t " style="left:409.70px;top:500.00px;font-size:16.9px;font-weight:400;color:#26bf94;letter-spacing:0.183px;">View All</span>
<span class="t " style="left:552.50px;top:488.00px;font-size:16.6px;font-weight:700;color:#e6533c;letter-spacing:-0.094px;">-12%</span>
<span class="t " style="left:524.20px;top:513.00px;font-size:14.3px;font-weight:400;color:#7d7d7d;letter-spacing:0.166px;-webkit-text-stroke:0.35px;">this month</span>
<span class="t " style="left:742.50px;top:407.00px;font-size:16.9px;font-weight:400;color:#9a9a9a;letter-spacing:0.016px;">Total Exams</span>
<span class="t " style="left:742.50px;top:459.00px;font-size:16.9px;font-weight:400;color:#f5b849;letter-spacing:0.255px;">View All</span>
<span class="t " style="left:881.70px;top:447.00px;font-size:16.6px;font-weight:700;color:#26bf94;letter-spacing:-0.216px;">+19%</span>
<span class="t " style="left:857.00px;top:472.00px;font-size:14.3px;font-weight:400;color:#7d7d7d;letter-spacing:0.188px;-webkit-text-stroke:0.35px;">this month</span>
<span class="t " style="left:409.70px;top:620.00px;font-size:16.9px;font-weight:400;color:#9a9a9a;letter-spacing:0.104px;">Todays Pesent Student</span>
<span class="t " style="left:488.30px;top:647.00px;font-size:31.5px;font-weight:700;color:#cfcfcf;transform-origin:0 0;transform:scaleX(0.9722);">4</span>
<span class="t " style="left:409.70px;top:712.00px;font-size:16.9px;font-weight:400;color:#f5b849;letter-spacing:0.183px;">View All</span>
<span class="t " style="left:548.70px;top:700.00px;font-size:16.6px;font-weight:700;color:#26bf94;letter-spacing:-0.283px;">+19%</span>
<span class="t " style="left:524.20px;top:725.00px;font-size:14.3px;font-weight:400;color:#7d7d7d;letter-spacing:0.166px;-webkit-text-stroke:0.35px;">this month</span>
<span class="t " style="left:742.50px;top:617.00px;font-size:16.9px;font-weight:400;color:#ffffff;letter-spacing:0.217px;">Student Added (in</span>
<span class="t " style="left:742.50px;top:641.00px;font-size:16.9px;font-weight:400;color:#ffffff;letter-spacing:-0.174px;">7days)</span>
<span class="t " style="left:742.21px;top:668.00px;font-size:31.5px;font-weight:700;color:#e2d9f7;transform-origin:0 0;transform:scaleX(1.0938);">0</span>
<span class="t " style="left:742.50px;top:734.00px;font-size:16.9px;font-weight:400;color:#ecb260;letter-spacing:0.255px;">View All</span>
<span class="t " style="left:881.70px;top:721.00px;font-size:16.6px;font-weight:700;color:#3cba9f;letter-spacing:-0.216px;opacity:.7;">+19%</span>
<span class="t " style="left:857.00px;top:747.00px;font-size:14.3px;font-weight:400;color:#baabee;letter-spacing:0.188px;-webkit-text-stroke:0.35px;">this month</span>
<span class="t " style="left:1006.30px;top:191.00px;font-size:19.4px;font-weight:700;color:#d0d0d0;letter-spacing:-0.284px;">Fees Revenue</span>
<span class="t " style="left:1146.30px;top:387.00px;font-size:18.0px;font-weight:400;color:#c4c4c4;letter-spacing:0.494px;">Total</span>
<span class="t " style="left:1107.06px;top:415.00px;font-size:33.0px;font-weight:700;color:#c6c6c6;transform-origin:0 0;transform:scaleX(1.1383);">8000.00</span>
<span class="t " style="left:996.52px;top:625.00px;font-size:16.0px;font-weight:400;color:#adadad;transform-origin:0 0;transform:scaleX(0.9827);">PendingFeesAmount</span>
<span class="t " style="left:1204.43px;top:625.00px;font-size:16.0px;font-weight:400;color:#adadad;transform-origin:0 0;transform:scaleX(0.9715);">PaidFeesAmount</span>
<span class="t " style="left:1029.60px;top:654.00px;font-size:21.0px;font-weight:700;color:#d0d0d0;transform-origin:0 0;transform:scaleX(1.0887);">7000.00</span>
<span class="t " style="left:1224.13px;top:654.00px;font-size:21.0px;font-weight:700;color:#d0d0d0;transform-origin:0 0;transform:scaleX(1.0669);">1000.00</span>
<span class="t " style="left:1405.70px;top:187.00px;font-size:19.6px;font-weight:700;color:#d0d0d0;letter-spacing:-0.334px;">Recent User Login</span>
<span class="t " style="left:1452.00px;top:262.00px;font-size:16.8px;font-weight:400;color:#2cbe95;letter-spacing:0.633px;-webkit-text-stroke:0.5px;">Amit</span>
<span class="t " style="left:1493.00px;top:262.00px;font-size:16.8px;font-weight:700;color:#d2d2d2;letter-spacing:-0.032px;">-Amit Gupta -</span>
<span class="t " style="left:1603.30px;top:262.00px;font-size:16.8px;font-weight:400;color:#8a62e6;letter-spacing:0.617px;-webkit-text-stroke:0.5px;">Admin</span>
<span class="t " style="left:1713.00px;top:260.00px;font-size:14.7px;font-weight:400;color:#2fa4d4;letter-spacing:0.063px;">September-06 (23:37)</span>
<span class="t " style="left:1451.00px;top:290.00px;font-size:16.8px;font-weight:400;color:#2cbe95;letter-spacing:0.773px;-webkit-text-stroke:0.5px;">FI-S003</span>
<span class="t " style="left:1520.30px;top:290.00px;font-size:16.8px;font-weight:700;color:#d2d2d2;letter-spacing:0.169px;">-Poi -</span>
<span class="t " style="left:1568.00px;top:290.00px;font-size:16.8px;font-weight:400;color:#8a62e6;letter-spacing:0.419px;-webkit-text-stroke:0.5px;">Student</span>
<span class="t " style="left:1765.30px;top:288.00px;font-size:14.7px;font-weight:400;color:#2fa4d4;letter-spacing:-0.306px;">July-31 (20:11)</span>
<span class="t " style="left:1451.00px;top:318.00px;font-size:16.8px;font-weight:400;color:#2cbe95;letter-spacing:0.773px;-webkit-text-stroke:0.5px;">FI-S002</span>
<span class="t " style="left:1520.30px;top:318.00px;font-size:16.8px;font-weight:700;color:#d2d2d2;letter-spacing:-0.026px;">-Lakshman -</span>
<span class="t " style="left:1623.70px;top:318.00px;font-size:16.8px;font-weight:400;color:#8a62e6;letter-spacing:0.469px;-webkit-text-stroke:0.5px;">Student</span>
<span class="t " style="left:1759.70px;top:316.00px;font-size:14.7px;font-weight:400;color:#2fa4d4;letter-spacing:0.016px;">July-31 (20:03)</span>
<span class="t " style="left:1451.00px;top:346.00px;font-size:16.8px;font-weight:400;color:#2cbe95;letter-spacing:0.807px;-webkit-text-stroke:0.5px;">FI-S009</span>
<span class="t " style="left:1520.30px;top:346.00px;font-size:16.8px;font-weight:700;color:#d2d2d2;letter-spacing:-0.026px;">-Lakshman -</span>
<span class="t " style="left:1623.70px;top:346.00px;font-size:16.8px;font-weight:400;color:#8a62e6;letter-spacing:0.519px;-webkit-text-stroke:0.5px;">Student</span>
<span class="t " style="left:1760.00px;top:344.00px;font-size:14.7px;font-weight:400;color:#2fa4d4;letter-spacing:-0.005px;">July-30 (17:40)</span>
<span class="t " style="left:1451.00px;top:374.00px;font-size:16.8px;font-weight:400;color:#2cbe95;letter-spacing:0.560px;-webkit-text-stroke:0.5px;">FI-FI002</span>
<span class="t " style="left:1523.70px;top:374.00px;font-size:16.8px;font-weight:700;color:#d2d2d2;letter-spacing:0.228px;">-Adity -</span>
<span class="t " style="left:1587.50px;top:374.00px;font-size:16.8px;font-weight:400;color:#8a62e6;letter-spacing:0.502px;-webkit-text-stroke:0.5px;">Student</span>
<span class="t " style="left:1759.70px;top:372.00px;font-size:14.7px;font-weight:400;color:#2fa4d4;letter-spacing:0.016px;">July-20 (18:04)</span>
<span class="t " style="left:1452.50px;top:402.00px;font-size:16.8px;font-weight:400;color:#2cbe95;letter-spacing:-0.039px;-webkit-text-stroke:0.5px;">T001</span>
<span class="t " style="left:1495.00px;top:402.00px;font-size:16.8px;font-weight:700;color:#d2d2d2;letter-spacing:-0.115px;">-Birendra Prajapati -</span>
<span class="t " style="left:1658.00px;top:402.00px;font-size:16.8px;font-weight:400;color:#8a62e6;letter-spacing:0.565px;-webkit-text-stroke:0.5px;">Teacher</span>
<span class="t " style="left:1739.60px;top:400.00px;font-size:14.7px;font-weight:400;color:#2fa4d4;letter-spacing:0.045px;">August-01 (20:42)</span>
<span class="t " style="left:1451.00px;top:430.00px;font-size:16.8px;font-weight:400;color:#2cbe95;letter-spacing:0.309px;-webkit-text-stroke:0.5px;">FI-Ravi</span>
<span class="t " style="left:1511.30px;top:430.00px;font-size:16.8px;font-weight:700;color:#d2d2d2;letter-spacing:-0.111px;">-Ravi Gupta -</span>
<span class="t " style="left:1619.20px;top:430.00px;font-size:16.8px;font-weight:400;color:#8a62e6;letter-spacing:0.435px;-webkit-text-stroke:0.5px;">Student</span>
<span class="t " style="left:1742.60px;top:428.00px;font-size:14.7px;font-weight:400;color:#2fa4d4;letter-spacing:-0.143px;">August-01 (16:43)</span>
<span class="t " style="left:338.50px;top:848.00px;font-size:19.6px;font-weight:700;color:#d0d0d0;letter-spacing:-0.074px;">My Courses</span>
<span class="t " style="left:1760.50px;top:848.00px;font-size:15.0px;font-weight:400;color:#d0d0d0;letter-spacing:0.679px;">View All</span>
</div>
</body>
</html>
